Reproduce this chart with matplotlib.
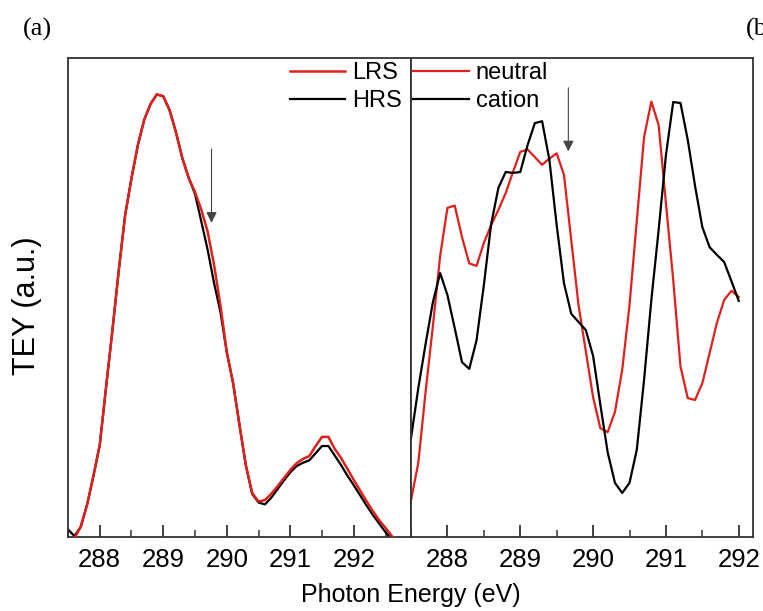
import numpy as np
import matplotlib
matplotlib.use("Agg")
import matplotlib.pyplot as plt
from matplotlib.ticker import MultipleLocator

plt.rcParams['font.family'] = ['Liberation Sans', 'DejaVu Sans']

RED = "#e0201c"

# (a) LRS / HRS spectra, 0.1 eV steps
energy_a = np.round(np.arange(287.5, 292.95, 0.1), 2)
lrs = [-0.02, -0.003, 0.021, 0.067, 0.127, 0.192, 0.313, 0.432, 0.557, 0.672,
       0.749, 0.818, 0.871, 0.904, 0.924, 0.920, 0.891, 0.845, 0.791, 0.750,
       0.720, 0.683, 0.637, 0.568, 0.484, 0.386, 0.321, 0.234, 0.150, 0.092,
       0.074, 0.077, 0.090, 0.106, 0.123, 0.140, 0.154, 0.163, 0.169, 0.190,
       0.209, 0.209, 0.184, 0.165, 0.142, 0.119, 0.097, 0.075, 0.054, 0.035,
       0.019, 0.002, -0.015, -0.030, -0.045]
hrs = [0.016, 0.002, 0.021, 0.067, 0.127, 0.192, 0.313, 0.432, 0.557, 0.672,
       0.749, 0.818, 0.871, 0.904, 0.924, 0.920, 0.891, 0.845, 0.791, 0.750,
       0.716, 0.658, 0.599, 0.530, 0.470, 0.386, 0.321, 0.234, 0.150, 0.090,
       0.072, 0.068, 0.082, 0.100, 0.118, 0.135, 0.148, 0.155, 0.160, 0.175,
       0.190, 0.190, 0.170, 0.150, 0.128, 0.108, 0.087, 0.066, 0.046, 0.028,
       0.010, -0.005, -0.020, -0.035, -0.050]

# (b) neutral / cation spectra
energy_b = np.round(np.arange(287.5, 292.05, 0.1), 2)
neutral = [0.077, 0.155, 0.303, 0.440, 0.587, 0.687, 0.692, 0.626, 0.571, 0.566,
           0.614, 0.651, 0.683, 0.718, 0.762, 0.804, 0.809, 0.793, 0.777, 0.790,
           0.801, 0.756, 0.620, 0.484, 0.388, 0.292, 0.227, 0.219, 0.261, 0.349,
           0.484, 0.660, 0.835, 0.909, 0.860, 0.697, 0.537, 0.356, 0.290, 0.286,
           0.321, 0.384, 0.447, 0.495, 0.514, 0.501]
cation = [0.207, 0.311, 0.403, 0.490, 0.551, 0.505, 0.436, 0.365, 0.351, 0.411,
          0.526, 0.653, 0.729, 0.762, 0.760, 0.762, 0.818, 0.864, 0.868, 0.787,
          0.651, 0.530, 0.466, 0.449, 0.432, 0.378, 0.276, 0.177, 0.113, 0.092,
          0.113, 0.182, 0.328, 0.495, 0.641, 0.797, 0.908, 0.906, 0.829, 0.733,
          0.647, 0.605, 0.589, 0.574, 0.534, 0.493]

fig = plt.figure(figsize=(7.63, 6.11), dpi=100)
ax1 = fig.add_axes([0.0891, 0.1211, 0.4495, 0.784])
ax2 = fig.add_axes([0.5387, 0.1211, 0.4486, 0.784])

# red drawn over black where the two curves coincide
ax1.plot(energy_a, lrs, color=RED, lw=1.8, label="LRS", zorder=3)
ax1.plot(energy_a, hrs, color="black", lw=1.6, label="HRS", zorder=2)
ax1.set_xlim(287.5, 292.9)

ax2.plot(energy_b, neutral, color=RED, lw=1.6, label="neutral")
ax2.plot(energy_b, cation, color="black", lw=1.6, label="cation")
ax2.set_xlim(287.5, 292.2)

for ax in (ax1, ax2):
    ax.set_ylim(0, 1)
    ax.set_yticks([])
    ax.xaxis.set_major_locator(MultipleLocator(1))
    ax.xaxis.set_minor_locator(MultipleLocator(0.5))
    ax.tick_params(axis='x', which='major', direction='in', length=9, width=1.3,
                   labelsize=18.5, pad=8, color="#333333")
    ax.tick_params(axis='x', which='minor', direction='in', length=5, width=1.1,
                   color="#333333")
    for s in ax.spines.values():
        s.set_linewidth(1.3)
        s.set_color("#333333")

# arrows marking the shoulder
ax1.annotate("", xy=(289.76, 0.656), xytext=(289.76, 0.81),
             arrowprops=dict(arrowstyle="-|>", color="#444444", lw=0.8,
                             mutation_scale=16, shrinkA=0, shrinkB=0))
ax2.annotate("", xy=(289.66, 0.805), xytext=(289.66, 0.938),
             arrowprops=dict(arrowstyle="-|>", color="#444444", lw=0.8,
                             mutation_scale=16, shrinkA=0, shrinkB=0))

leg_kw = dict(loc="upper left", frameon=False, fontsize=17, handlelength=2.35,
              handletextpad=0.3, labelspacing=0.25, borderpad=0, borderaxespad=0,
              bbox_transform=fig.transFigure)
ax1.legend(bbox_to_anchor=(0.380, 0.898), **leg_kw)
ax2.legend(bbox_to_anchor=(0.5415, 0.898), **leg_kw)

fig.text(0.035, 0.5, "TEY (a.u.)", rotation=90, ha="center", va="center", fontsize=22)
fig.text(0.538, 0.027, "Photon Energy (eV)", ha="center", va="center", fontsize=18)
fig.text(0.030, 0.952, "(a)", family=["Liberation Serif"], fontsize=19, ha="left", va="center")
fig.text(0.977, 0.952, "(b)", family=["Liberation Serif"], fontsize=19, ha="left", va="center")

fig.savefig("out.png", dpi=100)
